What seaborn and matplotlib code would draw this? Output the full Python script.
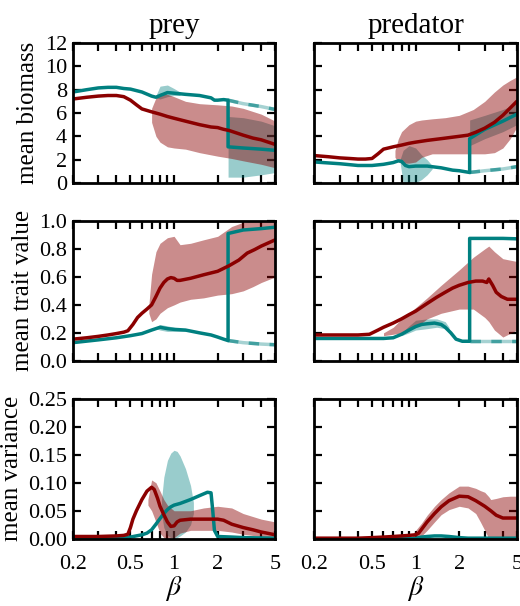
import numpy as np
import matplotlib
matplotlib.use("Agg")
import matplotlib.pyplot as plt
import seaborn as sns
from matplotlib.ticker import FixedLocator, FixedFormatter, FormatStrFormatter

# ---- data (beta on a log axis) ----
x_ticks = [0.2, 0.5, 1, 2, 5]
x_ticklabels = ["0.2", "0.5", "1", "2", "5"]
x_minor = [0.3, 0.4, 0.6, 0.7, 0.8, 0.9, 3, 4]
col_titles = ["prey", "predator"]
row_labels = ["mean biomass", "mean trait value", "mean variance"]

# prey biomass
bio_prey_x = [0.2, 0.25, 0.3, 0.35, 0.4, 0.45, 0.5, 0.55, 0.6, 0.7, 0.8, 0.9, 1.0, 1.2, 1.5, 1.8, 2.0, 2.2, 2.4, 3.0, 3.5, 4.0, 5.0]
bio_prey_red = [7.2, 7.35, 7.45, 7.5, 7.5, 7.4, 7.1, 6.7, 6.35, 6.1, 5.9, 5.7, 5.55, 5.3, 5.0, 4.8, 4.75, 4.6, 4.5, 4.1, 3.85, 3.7, 3.3]
bio_prey_teal_x = [0.2, 0.25, 0.3, 0.35, 0.4, 0.45, 0.5, 0.6, 0.7, 0.75, 0.8, 0.9, 1.0, 1.2, 1.5, 1.8, 1.9, 2.0, 2.2, 2.36, 2.36, 3.0, 4.0, 5.0]
bio_prey_teal = [7.8, 8.0, 8.15, 8.2, 8.2, 8.1, 8.05, 7.8, 7.45, 7.35, 7.5, 7.75, 7.7, 7.6, 7.5, 7.3, 7.1, 7.1, 7.15, 7.1, 3.1, 3.0, 2.9, 2.8]
bio_prey_dash_x = [2.36, 3.0, 4.0, 5.0]
bio_prey_dash = [7.1, 6.8, 6.55, 6.3]
bio_prey_redband_x = [0.7, 0.75, 0.8, 0.9, 1.0, 1.2, 1.5, 2.0, 2.5, 3.0, 4.0, 5.0]
bio_prey_redband_lo = [5.2, 4.0, 3.5, 3.1, 3.0, 2.9, 2.6, 2.3, 2.1, 1.9, 1.6, 1.3]
bio_prey_redband_hi = [6.4, 7.3, 7.7, 7.6, 7.4, 7.0, 6.8, 6.7, 6.6, 6.4, 5.9, 5.3]
bio_prey_tealband1_x = [0.75, 0.8, 0.9, 1.0, 1.1]
bio_prey_tealband1_lo = [7.3, 7.2, 7.4, 7.5, 7.5]
bio_prey_tealband1_hi = [7.5, 8.3, 8.4, 8.1, 7.8]
bio_prey_tealband2_x = [2.36, 3.0, 4.0, 5.0]
bio_prey_tealband2_lo = [0.5, 0.5, 0.7, 0.9]
bio_prey_tealband2_hi = [5.7, 5.6, 5.3, 4.9]

# predator biomass
bio_pred_x = [0.2, 0.25, 0.3, 0.35, 0.4, 0.45, 0.5, 0.55, 0.6, 0.7, 0.8, 0.9, 1.0, 1.2, 1.5, 2.0, 2.3, 2.6, 3.0, 3.5, 4.0, 5.0]
bio_pred_red = [2.35, 2.25, 2.15, 2.1, 2.05, 2.05, 2.1, 2.5, 2.9, 3.1, 3.25, 3.4, 3.5, 3.65, 3.8, 4.0, 4.1, 4.35, 4.7, 5.2, 5.8, 7.0]
bio_pred_teal_x = [0.2, 0.3, 0.4, 0.5, 0.6, 0.7, 0.76, 0.8, 0.85, 0.9, 1.0, 1.2, 1.5, 1.8, 2.0, 2.36, 2.36, 3.0, 4.0, 5.0]
bio_pred_teal = [1.8, 1.65, 1.5, 1.5, 1.6, 1.75, 1.9, 1.85, 1.5, 1.4, 1.45, 1.45, 1.3, 1.1, 1.05, 0.9, 3.8, 4.6, 5.3, 5.9]
bio_pred_dash_x = [2.36, 3.0, 4.0, 5.0]
bio_pred_dash = [0.9, 1.05, 1.2, 1.4]
bio_pred_redband_x = [0.72, 0.76, 0.8, 0.9, 1.0, 1.1, 1.3, 1.6, 2.0, 2.5, 3.0, 3.5, 4.0, 4.5, 5.0]
bio_pred_redband_lo = [2.2, 1.8, 1.7, 1.7, 1.8, 2.2, 2.5, 2.5, 2.5, 2.5, 2.5, 2.6, 3.0, 3.8, 4.8]
bio_pred_redband_hi = [2.8, 3.8, 4.4, 5.0, 5.3, 5.4, 5.5, 5.6, 5.8, 6.3, 7.0, 7.8, 8.4, 8.8, 9.1]
bio_pred_tealband1_x = [0.78, 0.82, 0.9, 1.0, 1.1, 1.2, 1.3]
bio_pred_tealband1_lo = [1.8, 0.0, 0.0, 0.0, 0.3, 0.7, 1.2]
bio_pred_tealband1_hi = [2.0, 2.8, 3.2, 3.0, 2.4, 2.0, 1.5]
bio_pred_tealband2_x = [2.36, 3.0, 4.0, 5.0]
bio_pred_tealband2_lo = [3.2, 3.8, 4.4, 5.0]
bio_pred_tealband2_hi = [5.4, 5.8, 6.3, 6.8]

# prey trait value
trait_prey_x = [0.2, 0.25, 0.3, 0.35, 0.4, 0.45, 0.48, 0.52, 0.56, 0.6, 0.65, 0.7, 0.75, 0.8, 0.85, 0.9, 0.95, 1.0, 1.05, 1.1, 1.3, 1.6, 2.0, 2.4, 2.8, 3.2, 3.6, 4.0, 5.0]
trait_prey_red = [0.155, 0.165, 0.175, 0.185, 0.195, 0.205, 0.215, 0.26, 0.31, 0.34, 0.37, 0.40, 0.46, 0.52, 0.56, 0.585, 0.595, 0.59, 0.575, 0.575, 0.59, 0.615, 0.64, 0.68, 0.72, 0.77, 0.795, 0.82, 0.865]
trait_prey_teal_x = [0.2, 0.3, 0.4, 0.5, 0.6, 0.7, 0.8, 0.9, 1.0, 1.2, 1.5, 1.8, 2.0, 2.2, 2.36, 2.36, 3.0, 4.0, 5.0]
trait_prey_teal = [0.13, 0.15, 0.165, 0.18, 0.195, 0.22, 0.24, 0.23, 0.225, 0.22, 0.2, 0.185, 0.17, 0.155, 0.145, 0.91, 0.935, 0.945, 0.955]
trait_prey_dash_x = [2.36, 3.0, 4.0, 5.0]
trait_prey_dash = [0.145, 0.13, 0.12, 0.115]
trait_prey_redband_x = [0.67, 0.7, 0.75, 0.8, 0.9, 1.0, 1.1, 1.3, 1.6, 2.0, 2.5, 3.0, 3.5, 4.0, 5.0]
trait_prey_redband_lo = [0.34, 0.28, 0.3, 0.34, 0.38, 0.4, 0.42, 0.44, 0.45, 0.47, 0.48, 0.5, 0.53, 0.56, 0.6]
trait_prey_redband_hi = [0.4, 0.62, 0.78, 0.84, 0.88, 0.89, 0.83, 0.84, 0.865, 0.89, 0.96, 0.99, 1.0, 1.0, 1.0]
trait_prey_tealband_x = [0.75, 0.8, 0.9, 1.0, 1.2]
trait_prey_tealband_lo = [0.23, 0.22, 0.21, 0.21, 0.21]
trait_prey_tealband_hi = [0.24, 0.26, 0.25, 0.24, 0.22]

# predator trait value
trait_pred_x = [0.2, 0.3, 0.4, 0.48, 0.55, 0.6, 0.7, 0.8, 0.9, 1.0, 1.2, 1.4, 1.6, 1.8, 2.0, 2.3, 2.6, 2.9, 3.1, 3.2, 3.4, 3.6, 3.9, 4.3, 5.0]
trait_pred_red = [0.185, 0.185, 0.185, 0.19, 0.22, 0.24, 0.27, 0.3, 0.33, 0.355, 0.41, 0.455, 0.49, 0.52, 0.54, 0.56, 0.57, 0.57, 0.56, 0.585, 0.54, 0.49, 0.46, 0.44, 0.44]
trait_pred_teal_x = [0.2, 0.4, 0.6, 0.7, 0.8, 0.9, 1.0, 1.1, 1.2, 1.35, 1.5, 1.6, 1.75, 1.9, 2.1, 2.36, 2.36, 3.0, 4.0, 5.0]
trait_pred_teal = [0.16, 0.16, 0.16, 0.165, 0.19, 0.22, 0.245, 0.26, 0.265, 0.27, 0.26, 0.24, 0.2, 0.155, 0.14, 0.14, 0.875, 0.875, 0.875, 0.872]
trait_pred_dash_x = [2.36, 5.0]
trait_pred_dash = [0.14, 0.14]
trait_pred_redband_x = [0.6, 0.7, 0.8, 1.0, 1.2, 1.5, 2.0, 2.5, 3.0, 3.2, 3.5, 4.0, 5.0]
trait_pred_redband_lo = [0.18, 0.19, 0.2, 0.24, 0.3, 0.34, 0.37, 0.37, 0.31, 0.28, 0.22, 0.17, 0.22]
trait_pred_redband_hi = [0.2, 0.24, 0.3, 0.38, 0.45, 0.54, 0.65, 0.74, 0.8, 0.82, 0.78, 0.73, 0.71]
trait_pred_tealband_x = [0.8, 0.9, 1.0, 1.2, 1.4, 1.6, 1.7]
trait_pred_tealband_lo = [0.18, 0.2, 0.22, 0.23, 0.24, 0.23, 0.22]
trait_pred_tealband_hi = [0.2, 0.25, 0.29, 0.3, 0.3, 0.28, 0.24]

# prey variance
var_prey_x = [0.2, 0.3, 0.4, 0.45, 0.48, 0.5, 0.52, 0.55, 0.6, 0.65, 0.7, 0.73, 0.77, 0.8, 0.85, 0.9, 0.95, 1.0, 1.05, 1.1, 1.3, 1.6, 2.0, 2.2, 2.5, 3.0, 3.5, 4.0, 5.0]
var_prey_red = [0.004, 0.004, 0.005, 0.006, 0.008, 0.02, 0.035, 0.05, 0.07, 0.085, 0.092, 0.088, 0.072, 0.058, 0.043, 0.03, 0.022, 0.023, 0.03, 0.033, 0.035, 0.035, 0.035, 0.033, 0.026, 0.02, 0.016, 0.012, 0.007]
var_prey_teal_x = [0.2, 0.4, 0.5, 0.6, 0.65, 0.7, 0.75, 0.8, 0.85, 0.9, 0.95, 1.0, 1.1, 1.3, 1.5, 1.7, 1.8, 1.85, 1.9, 2.0, 2.5, 3.0, 5.0]
var_prey_teal = [0.0, 0.001, 0.003, 0.007, 0.01, 0.016, 0.026, 0.036, 0.045, 0.052, 0.057, 0.06, 0.063, 0.07, 0.077, 0.083, 0.082, 0.05, 0.015, 0.004, 0.003, 0.002, 0.001]
var_prey_redband_x = [0.66, 0.7, 0.75, 0.8, 0.85, 0.9, 1.0, 1.1, 1.3, 1.6, 2.0, 2.5, 3.0, 4.0, 5.0]
var_prey_redband_lo = [0.06, 0.05, 0.03, 0.01, 0.002, 0.0, 0.002, 0.01, 0.015, 0.015, 0.015, 0.012, 0.008, 0.004, 0.0]
var_prey_redband_hi = [0.07, 0.105, 0.1, 0.085, 0.07, 0.06, 0.05, 0.05, 0.05, 0.055, 0.058, 0.055, 0.045, 0.035, 0.03]
var_prey_tealband_x = [0.82, 0.85, 0.9, 0.95, 1.0, 1.05, 1.1, 1.2, 1.3, 1.36]
var_prey_tealband_lo = [0.045, 0.02, 0.006, 0.002, 0.001, 0.002, 0.005, 0.012, 0.025, 0.045]
var_prey_tealband_hi = [0.07, 0.11, 0.14, 0.153, 0.158, 0.156, 0.148, 0.125, 0.095, 0.065]

# predator variance
var_pred_x = [0.2, 0.4, 0.5, 0.6, 0.7, 0.8, 0.9, 1.0, 1.05, 1.1, 1.2, 1.35, 1.5, 1.7, 2.0, 2.3, 2.6, 3.0, 3.3, 3.6, 4.0, 4.5, 5.0]
var_pred_red = [0.001, 0.001, 0.002, 0.003, 0.004, 0.005, 0.006, 0.007, 0.01, 0.017, 0.03, 0.045, 0.057, 0.068, 0.076, 0.075, 0.068, 0.058, 0.05, 0.042, 0.037, 0.037, 0.037]
var_pred_teal = [0.0, 0.0, 0.0, 0.0, 0.0, 0.0, 0.0, 0.001, 0.002, 0.003, 0.004, 0.005, 0.005, 0.004, 0.002, 0.001, 0.001, 0.001, 0.001, 0.001, 0.001, 0.001, 0.001]
var_pred_redband_x = [0.95, 1.0, 1.1, 1.2, 1.35, 1.5, 1.7, 2.0, 2.3, 2.6, 2.8, 3.0, 3.2, 3.3, 3.6, 4.0, 4.5, 5.0]
var_pred_redband_lo = [0.004, 0.002, 0.005, 0.015, 0.03, 0.043, 0.052, 0.058, 0.055, 0.045, 0.03, 0.015, 0.0, 0.0, 0.0, 0.0, 0.0, 0.0]
var_pred_redband_hi = [0.008, 0.015, 0.028, 0.042, 0.058, 0.07, 0.082, 0.094, 0.094, 0.09, 0.086, 0.083, 0.075, 0.07, 0.072, 0.075, 0.076, 0.076]

RED = "#8b0000"
TEAL = "#008080"

sns.set_style("ticks", {"axes.edgecolor": "black", "xtick.color": "black", "ytick.color": "black",
                        "text.color": "black", "axes.labelcolor": "black"})
plt.rcParams["font.family"] = ["Liberation Serif", "DejaVu Serif"]
plt.rcParams["mathtext.fontset"] = "stix"

fig, axes = plt.subplots(3, 2, figsize=(5.2, 6.06), dpi=100)
fig.subplots_adjust(left=0.14, right=0.994, top=0.929, bottom=0.111, wspace=0.193, hspace=0.271)


def draw_line(ax, x, y, color):
    sns.lineplot(x=x, y=y, ax=ax, color=color, lw=2.5, estimator=None, sort=False)


def draw_dash(ax, x, y):
    # faint unstable branch continuing past the jump
    sns.lineplot(x=x, y=y, ax=ax, color=TEAL, lw=2.5, alpha=0.35, estimator=None, sort=False)
    sns.lineplot(x=x, y=y, ax=ax, color=TEAL, lw=2.5, alpha=0.6, estimator=None, sort=False)
    ax.lines[-1].set_dashes([3, 3])


panels = [
    # (ax, red x, red y, teal x, teal y, dashed, teal bands, red band)
    (axes[0, 0], bio_prey_x, bio_prey_red, bio_prey_teal_x, bio_prey_teal,
     (bio_prey_dash_x, bio_prey_dash),
     [(bio_prey_tealband1_x, bio_prey_tealband1_lo, bio_prey_tealband1_hi),
      (bio_prey_tealband2_x, bio_prey_tealband2_lo, bio_prey_tealband2_hi)],
     (bio_prey_redband_x, bio_prey_redband_lo, bio_prey_redband_hi)),
    (axes[0, 1], bio_pred_x, bio_pred_red, bio_pred_teal_x, bio_pred_teal,
     (bio_pred_dash_x, bio_pred_dash),
     [(bio_pred_tealband1_x, bio_pred_tealband1_lo, bio_pred_tealband1_hi),
      (bio_pred_tealband2_x, bio_pred_tealband2_lo, bio_pred_tealband2_hi)],
     (bio_pred_redband_x, bio_pred_redband_lo, bio_pred_redband_hi)),
    (axes[1, 0], trait_prey_x, trait_prey_red, trait_prey_teal_x, trait_prey_teal,
     (trait_prey_dash_x, trait_prey_dash),
     [(trait_prey_tealband_x, trait_prey_tealband_lo, trait_prey_tealband_hi)],
     (trait_prey_redband_x, trait_prey_redband_lo, trait_prey_redband_hi)),
    (axes[1, 1], trait_pred_x, trait_pred_red, trait_pred_teal_x, trait_pred_teal,
     (trait_pred_dash_x, trait_pred_dash),
     [(trait_pred_tealband_x, trait_pred_tealband_lo, trait_pred_tealband_hi)],
     (trait_pred_redband_x, trait_pred_redband_lo, trait_pred_redband_hi)),
    (axes[2, 0], var_prey_x, var_prey_red, var_prey_teal_x, var_prey_teal, None,
     [(var_prey_tealband_x, var_prey_tealband_lo, var_prey_tealband_hi)],
     (var_prey_redband_x, var_prey_redband_lo, var_prey_redband_hi)),
    (axes[2, 1], var_pred_x, var_pred_red, var_pred_x, var_pred_teal, None, [],
     (var_pred_redband_x, var_pred_redband_lo, var_pred_redband_hi)),
]

for ax, rx, ry, tx, ty, dash, tbands, rband in panels:
    ax.set_xscale("log")
    for bx, lo, hi in tbands:
        ax.fill_between(bx, lo, hi, color=TEAL, alpha=0.4, lw=0)
    ax.fill_between(rband[0], rband[1], rband[2], color=RED, alpha=0.45, lw=0)
    if dash is not None:
        draw_dash(ax, dash[0], dash[1])
    draw_line(ax, tx, ty, TEAL)
    draw_line(ax, rx, ry, RED)

ylims = [(0, 12), (0, 1.0), (0, 0.25)]
yticks = [np.arange(0, 13, 2), np.arange(0, 1.01, 0.2), np.arange(0, 0.26, 0.05)]
yfmt = ["%d", "%.1f", "%.2f"]

for i in range(3):
    for j in range(2):
        ax = axes[i, j]
        ax.set_xlim(0.2, 5)
        ax.set_ylim(*ylims[i])
        ax.set_yticks(yticks[i])
        ax.yaxis.set_major_formatter(FormatStrFormatter(yfmt[i]))
        ax.xaxis.set_major_locator(FixedLocator(x_ticks))
        ax.xaxis.set_minor_locator(FixedLocator(x_minor))
        ax.xaxis.set_major_formatter(FixedFormatter(x_ticklabels))
        ax.xaxis.set_minor_formatter(FixedFormatter([""] * len(x_minor)))
        ax.tick_params(which="both", direction="in", top=True, right=True,
                       length=6, width=1.6, labelsize=16, colors="black")
        ax.tick_params(axis="y", pad=4)
        ax.tick_params(axis="x", pad=12)
        for s in ax.spines.values():
            s.set_linewidth(2)
            s.set_color("black")
            s.set_visible(True)
        ax.set_xlabel("")
        ax.set_ylabel("")
        if i < 2:
            ax.tick_params(labelbottom=False)
        else:
            ax.set_xlabel(r"$\beta$", fontsize=20, labelpad=0)
        if j == 1:
            ax.tick_params(labelleft=False)
        else:
            ax.set_ylabel(row_labels[i], fontsize=18, labelpad=4)
        if i == 0:
            ax.set_title(col_titles[j], fontsize=21, pad=7)

fig.savefig("out.png", dpi=100)
